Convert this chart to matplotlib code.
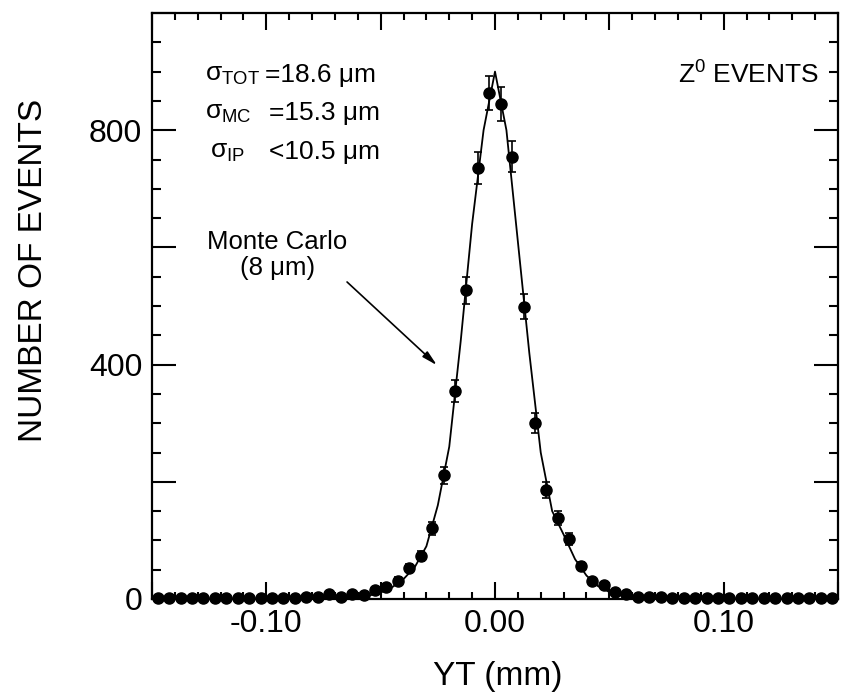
import numpy as np
import matplotlib
matplotlib.use('Agg')
import matplotlib.pyplot as plt
from matplotlib.ticker import MultipleLocator

plt.rcParams['font.family'] = ['Liberation Sans', 'DejaVu Sans']
plt.rcParams['mathtext.default'] = 'regular'

# measured YT distribution (bin centres in mm)
yt_bins = np.arange(60) * 0.005 - 0.1475
counts = [1, 1, 1, 1, 1, 1, 2, 1, 2, 1,
          2, 1, 2, 3, 3, 8, 3, 8, 6, 15,
          21, 31, 53, 73, 121, 211, 355, 527, 736, 864,
          845, 755, 499, 301, 186, 138, 102, 56, 30, 24,
          12, 8, 4, 3, 3, 2, 2, 1, 2, 1,
          2, 1, 1, 2, 1, 1, 1, 1, 1, 1]
count_err = [1, 1, 1, 1, 1, 1, 1, 1, 1, 1,
             1, 1, 1, 2, 2, 3, 2, 3, 2, 4,
             5, 6, 7, 9, 11, 15, 19, 23, 27, 29,
             29, 27, 22, 17, 14, 12, 10, 7, 5, 5,
             3, 3, 2, 2, 2, 1, 1, 1, 1, 1,
             1, 1, 1, 1, 1, 1, 1, 1, 1, 1]

# Monte Carlo curve
mc_x = [-0.15, -0.07, -0.06, -0.055, -0.05, -0.045, -0.04, -0.035, -0.03, -0.025,
        -0.02, -0.015, -0.01, -0.005, 0.0, 0.005, 0.01, 0.015, 0.02, 0.025,
        0.03, 0.035, 0.04, 0.045, 0.05, 0.055, 0.06, 0.07, 0.15]
mc_y = [0, 1, 3, 6, 11, 20, 34, 55, 90, 160,
        260, 440, 640, 800, 900, 800, 610, 420, 250, 150,
        110, 68, 40, 22, 12, 6, 3, 1, 0]

fig = plt.figure(figsize=(8.43, 6.95), dpi=100)
ax = fig.add_axes([152/843, 96/695, 686/843, 586/695])

ax.plot(mc_x, mc_y, color='black', lw=1.3, zorder=2)
ax.errorbar(yt_bins, counts, yerr=count_err, fmt='o', color='black',
            markersize=8, elinewidth=1.2, capsize=3, capthick=1.2,
            clip_on=False, zorder=3)

ax.set_xlim(-0.15, 0.15)
ax.set_ylim(0, 1000)

ax.xaxis.set_minor_locator(MultipleLocator(0.01))
ax.yaxis.set_minor_locator(MultipleLocator(50))
ax.set_xticks([-0.15, -0.10, -0.05, 0.0, 0.05, 0.10, 0.15])
ax.set_xticklabels(['', '-0.10', '', '0.00', '', '0.10', ''])
ax.set_yticks([0, 200, 400, 600, 800, 1000])
ax.set_yticklabels(['0', '', '400', '', '800', ''])

ax.tick_params(which='both', direction='in', top=True, right=True,
               width=1.5, labelsize=23, pad=7)
ax.tick_params(axis='x', which='major', length=12)
ax.tick_params(axis='x', which='minor', length=5)
ax.tick_params(axis='y', which='major', length=17)
ax.tick_params(axis='y', which='minor', length=6.5)
for sp in ax.spines.values():
    sp.set_linewidth(1.6)

ax.set_xlabel('YT (mm)', fontsize=24)
ax.xaxis.set_label_coords(0.504, -0.133)
ax.xaxis.label.set_verticalalignment('center')
ax.set_ylabel('NUMBER OF EVENTS', fontsize=24)
ax.yaxis.set_label_coords(-0.173, 0.56)
ax.yaxis.label.set_verticalalignment('center')

# resolution labels
ax.text(-0.1268, 894, r'$\sigma_{TOT}$', fontsize=19, va='center', ha='left')
ax.text(-0.1006, 894, '=18.6 μm', fontsize=19, va='center', ha='left')
ax.text(-0.1268, 829, r'$\sigma_{MC}$', fontsize=19, va='center', ha='left')
ax.text(-0.0990, 829, '=15.3 μm', fontsize=19, va='center', ha='left')
ax.text(-0.1245, 763, r'$\sigma_{IP}$', fontsize=19, va='center', ha='left')
ax.text(-0.0990, 763, '<10.5 μm', fontsize=19, va='center', ha='left')

ax.text(0.1415, 894, r'Z$^0$ EVENTS', fontsize=19, va='center', ha='right')

ax.text(-0.0953, 587, 'Monte Carlo\n(8 μm)', fontsize=18.5, va='center',
        ha='center', multialignment='center', linespacing=1.15)
ax.annotate('', xy=(-0.0254, 399), xytext=(-0.0647, 541),
            arrowprops=dict(arrowstyle='-|>,head_length=0.9,head_width=0.22',
                            color='black', lw=1.2, shrinkA=0, shrinkB=0))

fig.savefig('out.png', dpi=100)
